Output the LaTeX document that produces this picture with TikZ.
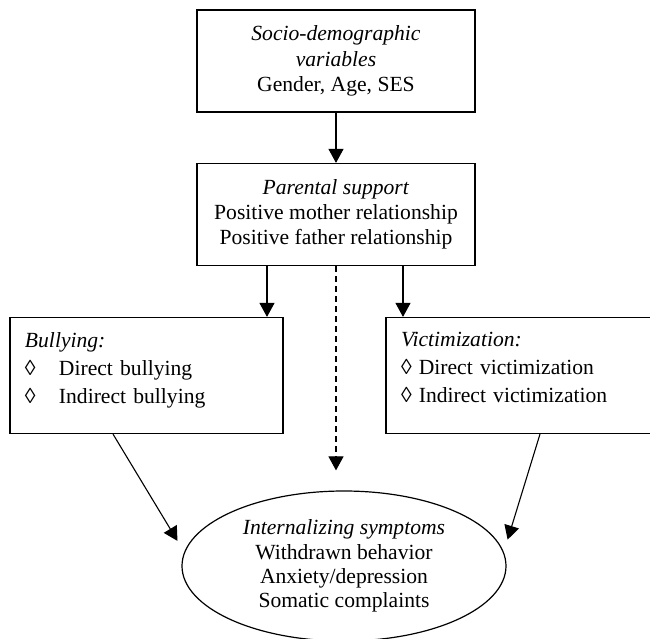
\documentclass[tikz,border=0pt]{standalone}
\usepackage{fontspec}
\setmainfont{Liberation Serif}
\usetikzlibrary{arrows.meta,shapes.geometric}

\begin{document}
\begin{tikzpicture}[
    x=0.5pt, y=-0.5pt,
    box/.style={draw, line width=0.6pt, align=center, minimum width=139pt, minimum height=51pt, inner sep=0pt, font=\fontsize{10.8}{12.6}\selectfont},
    side/.style={draw, line width=0.6pt, align=left, inner xsep=7.5pt, inner ysep=0pt, minimum height=58pt, font=\fontsize{10.8}{14}\selectfont},
    outc/.style={draw, ellipse, line width=0.6pt, align=center, minimum width=162pt, minimum height=75pt, inner sep=0pt, font=\fontsize{10.8}{12.2}\selectfont},
    arr/.style={-{Triangle[width=7.5pt,length=7pt]}, line width=0.55pt},
]
\useasboundingbox (0,0) rectangle (650,639);

% Top boxes
\node[box] (socio)  at (336,61)    {\textit{Socio-demographic}\\ \textit{variables}\\ Gender, Age, SES};
\node[box] (parent) at (336,214.5) {\textit{Parental support}\\ Positive mother relationship\\ Positive father relationship};

% Bullying and victimization
\node[side, text width=121.5pt] (bully)  at (146.5,375.5) {\textit{Bullying:}\\ \makebox[17pt][l]{◊}Direct bullying\\ \makebox[17pt][l]{◊}Indirect bullying\\[-6pt] \mbox{}};
\node[side, text width=122pt]   (victim) at (523,375.5)   {\textit{Victimization:}\\ ◊ Direct victimization\\ ◊ Indirect victimization\\[-6pt] \mbox{}};

% Outcome
\node[outc] (intern) at (344,566) {\textit{Internalizing symptoms}\\ Withdrawn behavior\\ Anxiety/depression\\ Somatic complaints};

% Edges
\draw[arr] (socio) -- (parent);
\draw[arr] ([xshift=-34.5pt]parent.south) -- ([xshift=-34.5pt]parent.south |- bully.north);
\draw[arr] ([xshift=33.5pt]parent.south) -- ([xshift=33.5pt]parent.south |- victim.north);
\draw[arr, dash pattern=on 3pt off 2pt, shorten >=10pt] (parent.south) -- (parent.south |- intern.north);
\draw[arr, shorten >=6.5pt] ([xshift=-16.75pt]bully.south) -- (intern.175);
\draw[arr, shorten >=6.5pt] ([xshift=8.5pt]victim.south) -- (intern.5);

\end{tikzpicture}
\end{document}
